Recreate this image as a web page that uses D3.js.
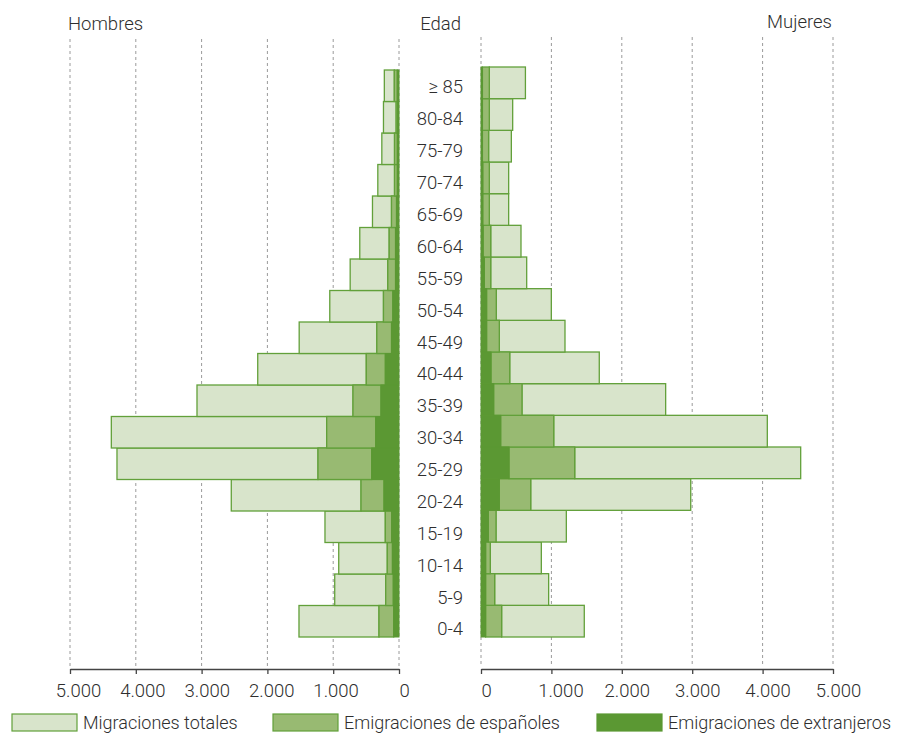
<!DOCTYPE html>
<html><head><meta charset="utf-8">
<script src="https://cdn.jsdelivr.net/npm/d3@7"></script>
<style>
body{margin:0;background:#fff;}
text{font-family:Roboto,"Noto Sans",sans-serif;fill:#2e2e2e;font-weight:300;}
</style></head>
<body><svg id="c" width="898" height="733"></svg>
<script>
const ages = ["0-4","5-9","10-14","15-19","20-24","25-29","30-34","35-39","40-44","45-49","50-54","55-59","60-64","65-69","70-74","75-79","80-84","≥ 85"];
// Hombres
const hExtranjeros = [81,87,100,111,228,415,354,274,208,114,94,53,53,38,25,25,20,26];
const hEspanoles   = [223,115,78,97,349,816,745,425,289,223,142,117,96,76,43,43,23,45];
const hTotales     = [1520,977,916,1125,2549,4286,4372,3070,2147,1517,1052,742,596,403,322,261,236,223];
// Mujeres
const mExtranjeros = [66,66,66,104,260,398,280,180,142,80,80,47,30,25,25,20,20,20];
const mEspanoles   = [227,128,66,109,446,933,753,402,266,180,137,91,108,93,93,88,98,98];
const mTotales     = [1467,961,857,1212,2979,4541,4067,2623,1680,1193,999,649,568,393,393,431,450,631];
const tickValues = [0,1000,2000,3000,4000,5000];
const seriesNames = ["Migraciones totales","Emigraciones de españoles","Emigraciones de extranjeros"];

const colors = {tot:"#d8e4cb", esp:"#98ba72", ext:"#5b9833"};
const strokeC = "#62a03a";
const svg = d3.select("#c");
const fmt = d => d3.format(",")(d).replace(/,/g,".");

const xL = d3.scaleLinear().domain([0,5000]).range([399,70]);
const xR = d3.scaleLinear().domain([0,5000]).range([481,833]);
const yL = d3.scaleBand().domain(ages).range([637,70]).padding(0);
const yR = d3.scaleBand().domain(ages).range([637,67]).padding(0);
const yLab = d3.scalePoint().domain(ages).range([629,87]);

// gridlines
function grid(x, top){
  svg.append("g").selectAll("line").data(tickValues).join("line")
    .attr("x1",d=>x(d)).attr("x2",d=>x(d)).attr("y1",top).attr("y2",667)
    .attr("stroke","#9a9a9a").attr("stroke-width",1).attr("stroke-dasharray","3,3");
}
grid(xL,39); grid(xR,37);

function side(x, y, ext, esp, tot){
  const rows = ages.map((a,i)=>({age:a, ext:ext[i], cum:ext[i]+esp[i], tot:tot[i]}));
  const g = svg.append("g");
  g.selectAll(".t").data(rows).join("rect")
    .attr("x",d=>Math.min(x(d.cum),x(d.tot))).attr("width",d=>Math.abs(x(d.tot)-x(d.cum)))
    .attr("y",d=>y(d.age)).attr("height",y.bandwidth())
    .attr("fill",colors.tot).attr("stroke",strokeC).attr("stroke-width",1.3);
  g.selectAll(".e").data(rows).join("rect")
    .attr("x",d=>Math.min(x(d.ext),x(d.cum))).attr("width",d=>Math.abs(x(d.cum)-x(d.ext)))
    .attr("y",d=>y(d.age)).attr("height",y.bandwidth())
    .attr("fill",colors.esp).attr("stroke",strokeC).attr("stroke-width",1.3);
  g.selectAll(".x").data(rows).join("rect")
    .attr("x",d=>Math.min(x(0),x(d.ext))).attr("width",d=>Math.abs(x(d.ext)-x(0)))
    .attr("y",d=>y(d.age)).attr("height",y.bandwidth())
    .attr("fill",colors.ext).attr("stroke",colors.ext).attr("stroke-width",1);
}
side(xL,yL,hExtranjeros,hEspanoles,hTotales);
side(xR,yR,mExtranjeros,mEspanoles,mTotales);

// axes
function axis(x){
  const g = svg.append("g").attr("transform","translate(0,669)")
    .call(d3.axisBottom(x).tickValues(tickValues).tickFormat(fmt).tickSize(5).tickPadding(10).tickSizeOuter(0));
  g.select(".domain").attr("stroke","#444").attr("stroke-width",1.6);
  g.selectAll(".tick line").attr("stroke","#444").attr("stroke-width",1.3);
  g.selectAll(".tick text").style("font-family","Roboto,sans-serif").style("font-size","18.5px").style("font-weight","300").attr("fill","#2e2e2e");
  return g;
}
const aL = axis(xL);
aL.selectAll(".tick text").attr("dx",(d)=> (d/1000)*1.4+ (d===0?5:1));
const aR = axis(xR);
aR.selectAll(".tick text").attr("dx",(d)=> d===0?5:(d===1000?9:5));

// age labels
svg.append("g").selectAll("text").data(ages).join("text")
  .attr("x",463).attr("y",d=>yLab(d)).attr("dy","0.35em")
  .attr("text-anchor","end").style("font-size","18.5px").text(d=>d);

// headers
svg.append("text").attr("x",68).attr("y",30).style("font-size","18.5px").text("Hombres");
svg.append("text").attr("x",461).attr("y",30).attr("text-anchor","end").style("font-size","18.5px").text("Edad");
svg.append("text").attr("x",832).attr("y",28).attr("text-anchor","end").style("font-size","18.5px").text("Mujeres");

// legend
const legX = [12,273,597];
const legC = [colors.tot,colors.esp,colors.ext];
const lg = svg.append("g");
seriesNames.forEach((n,i)=>{
  lg.append("rect").attr("x",legX[i]).attr("y",714).attr("width",65).attr("height",17)
    .attr("fill",legC[i]).attr("stroke",i===2?colors.ext:strokeC).attr("stroke-width",1.2);
  lg.append("text").attr("x",legX[i]+71).attr("y",729).style("font-size","18px").text(n);
});
</script></body></html>
